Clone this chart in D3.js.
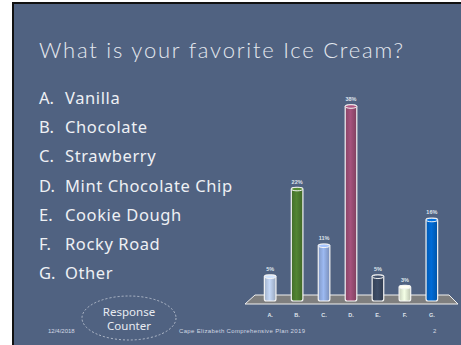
<!DOCTYPE html>
<html><head><meta charset="utf-8">
<script src="https://cdn.jsdelivr.net/npm/d3@7"></script>
<style>html,body{margin:0;padding:0;background:#fff;overflow:hidden}</style>
</head><body>
<script>
const title = "What is your favorite Ice Cream?";
const letters = ["A.","B.","C.","D.","E.","F.","G."];
const flavors = ["Vanilla","Chocolate","Strawberry","Mint Chocolate Chip","Cookie Dough","Rocky Road","Other"];
const values = [5,22,11,38,5,3,16];
const colors = ["#b4c6e2","#4b7a2e","#8fa9dc","#984c72","#39475f","#dfe9d2","#0063c6"];
const footerDate = "12/4/2018";
const footerText = "Cape Elizabeth Comprehensive Plan 2019";
const pageNum = "2";

const W=461,H=345;
const svg=d3.select("body").append("svg").attr("width",W).attr("height",H);
const defs=svg.append("defs");

// slide
svg.append("rect").attr("x",0).attr("y",0).attr("width",W).attr("height",H).attr("fill","#fff");
svg.append("rect").attr("x",12).attr("y",2).attr("width",W-12).attr("height",H-2).attr("fill","#111");
svg.append("rect").attr("x",14).attr("y",4).attr("width",W-14).attr("height",H-4).attr("fill","#506281");

svg.append("text").attr("x",39).attr("y",58).text(title)
  .attr("font-family","Lato, 'Open Sans', sans-serif").attr("font-size",22).attr("font-weight",300)
  .attr("fill","#e4e8ef").attr("textLength",364).attr("lengthAdjust","spacing");

// list
const list=svg.append("g");
letters.forEach((l,i)=>{
  const y=104+i*29.2;
  list.append("text").attr("x",39).attr("y",y).text(l)
    .attr("font-family","'Noto Sans', 'Open Sans', sans-serif").attr("font-size",16.5).attr("fill","#eef0f4");
  list.append("text").attr("x",65).attr("y",y).text(flavors[i])
    .attr("font-family","'Noto Sans', 'Open Sans', sans-serif").attr("font-size",16.5)
    .attr("letter-spacing",0.6).attr("fill","#eef0f4");
});

// chart
const x=d3.scaleBand().domain(letters).range([249,453]).padding(0.57);
const y=d3.scaleLinear().domain([0,38]).range([301,105]);

// floor
const floor=[[255,295],[449,295],[458,304],[245,304]];
svg.append("polygon").attr("points",floor.map(p=>p.join(",")).join(" "))
  .attr("fill","#7f7f7f").attr("stroke","#f0f0f0").attr("stroke-width",1);

colors.forEach((c,i)=>{
  const g=defs.append("linearGradient").attr("id","g"+i).attr("x1",0).attr("x2",1).attr("y1",0).attr("y2",0);
  const base=d3.color(c);
  g.append("stop").attr("offset","0%").attr("stop-color",base.darker(0.3));
  g.append("stop").attr("offset","45%").attr("stop-color",base.brighter(0.25));
  g.append("stop").attr("offset","100%").attr("stop-color",base.darker(0.5));
});

const bw=x.bandwidth();
const bars=svg.append("g").selectAll("g").data(values).join("g");
bars.append("rect")
  .attr("x",(d,i)=>x(letters[i])).attr("y",d=>y(d))
  .attr("width",bw).attr("height",d=>y(0)-y(d))
  .attr("rx",2)
  .attr("fill",(d,i)=>`url(#g${i})`).attr("stroke","#f4f4f4").attr("stroke-width",1.2);
bars.append("ellipse")
  .attr("cx",(d,i)=>x(letters[i])+bw/2).attr("cy",d=>y(d)+1.5)
  .attr("rx",bw/2).attr("ry",1.8)
  .attr("fill",(d,i)=>d3.color(colors[i]).brighter(0.4)).attr("stroke","#f4f4f4").attr("stroke-width",1);
bars.append("text")
  .attr("x",(d,i)=>x(letters[i])+bw/2).attr("y",d=>y(d)-4)
  .attr("text-anchor","middle").text(d=>d+"%")
  .attr("font-family","'Liberation Sans', sans-serif").attr("font-size",5.5).attr("font-weight","bold").attr("fill","#dfe4ec");

svg.append("g").selectAll("text").data(letters).join("text")
  .attr("x",d=>x(d)+bw/2).attr("y",317).attr("text-anchor","middle").text(d=>d)
  .attr("font-family","'Liberation Sans', sans-serif").attr("font-size",5.5).attr("font-weight","bold").attr("fill","#dfe4ec");

// footer
svg.append("ellipse").attr("cx",129).attr("cy",318).attr("rx",47).attr("ry",22)
  .attr("fill","none").attr("stroke","#c9cfdb").attr("stroke-width",0.8).attr("stroke-dasharray","2,2");
svg.append("text").attr("x",129).attr("y",316).attr("text-anchor","middle").text("Response")
  .attr("font-family","'Noto Sans', sans-serif").attr("font-size",11.5).attr("fill","#e8ebf1");
svg.append("text").attr("x",129).attr("y",330).attr("text-anchor","middle").text("Counter")
  .attr("font-family","'Noto Sans', sans-serif").attr("font-size",11.5).attr("fill","#e8ebf1");
svg.append("text").attr("x",48).attr("y",333).text(footerDate)
  .attr("font-family","'Liberation Sans', sans-serif").attr("font-size",6).attr("fill","#d3d9e4");
svg.append("text").attr("x",179).attr("y",333).text(footerText).attr("textLength",126)
  .attr("font-family","'Liberation Sans', sans-serif").attr("font-size",6).attr("fill","#d3d9e4");
svg.append("text").attr("x",433).attr("y",333).text(pageNum)
  .attr("font-family","'Liberation Sans', sans-serif").attr("font-size",6).attr("fill","#d3d9e4");
</script>
</body></html>
